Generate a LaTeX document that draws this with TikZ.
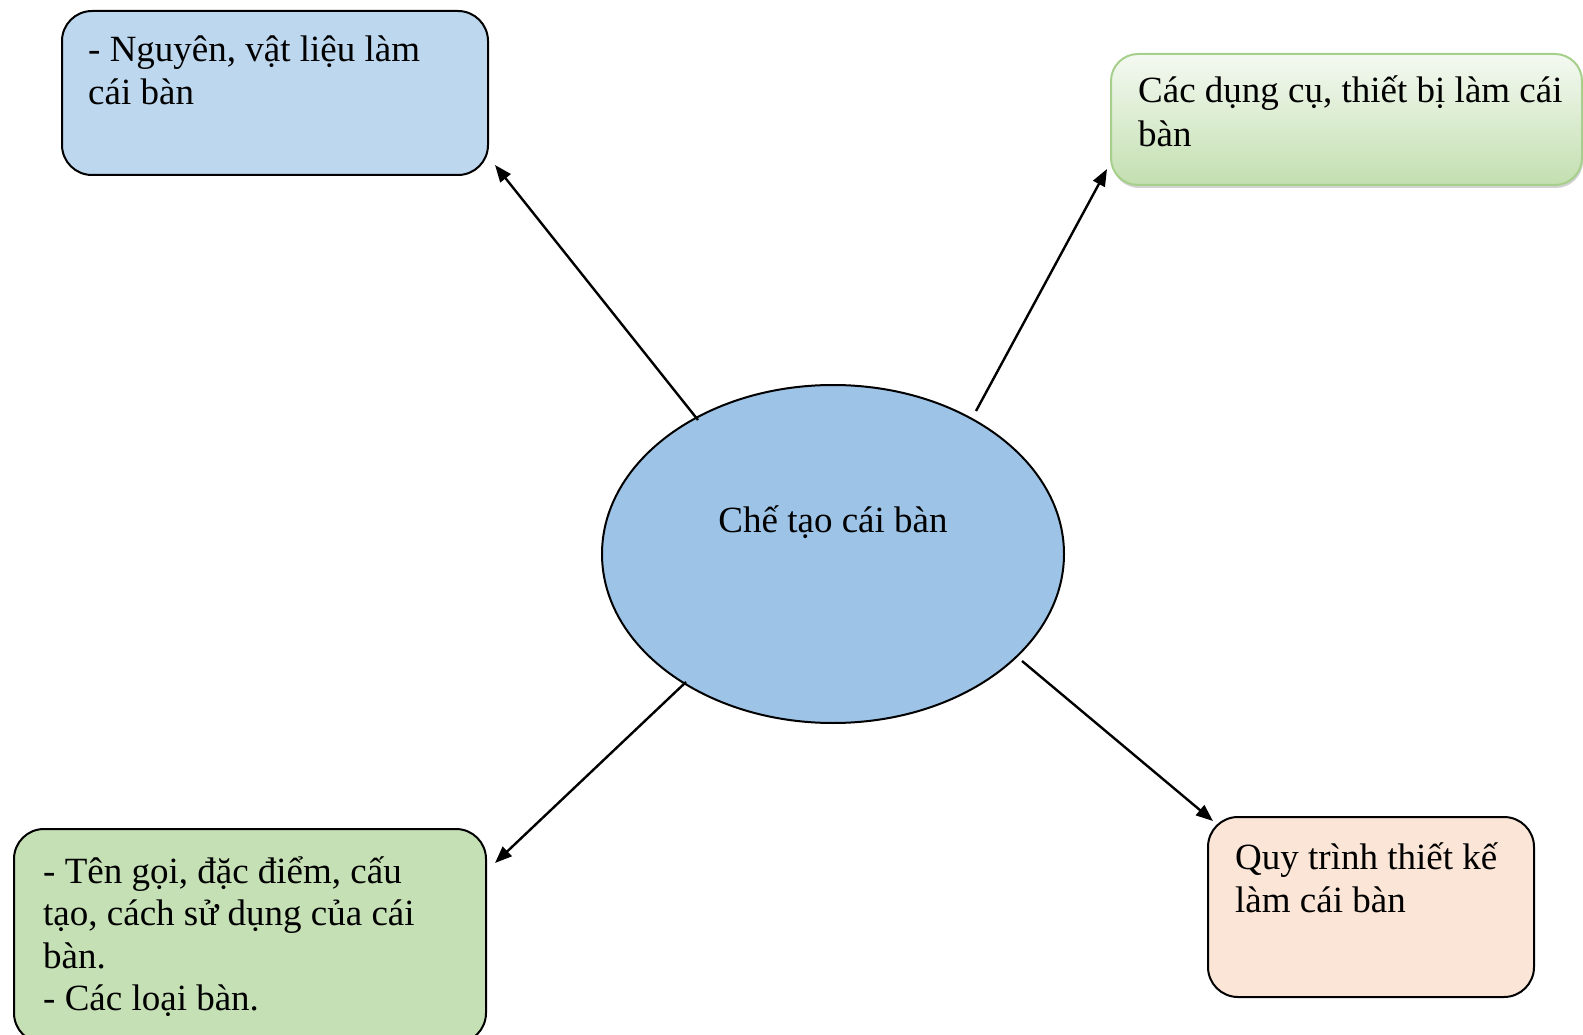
\documentclass[tikz,border=0pt]{standalone}
\usepackage{fontspec}
\setmainfont{Liberation Serif}
\usetikzlibrary{shapes.geometric,arrows.meta,calc,shadows}
\definecolor{tlblue}{HTML}{BDD7EE}
\definecolor{ellblue}{HTML}{9DC3E6}
\definecolor{blgreen}{HTML}{C5E0B4}
\definecolor{brpeach}{HTML}{FBE5D6}
\definecolor{trtop}{HTML}{F4F9F1}
\definecolor{trbot}{HTML}{C3DFB0}
\definecolor{trborder}{HTML}{A5CF8B}
\newcommand{\diagfont}{\fontsize{37}{42.5}\selectfont}
\newcommand{\ml}[2]{\vtop{\baselineskip=#1pt\lineskiplimit=-100pt\relax#2}}
\begin{document}
\begin{tikzpicture}[x=1pt,y=-1pt,
  box/.style={draw=black, line width=2pt, rounded corners=30pt, inner sep=0pt, anchor=north west},
  txt/.style={inner sep=0pt, anchor=base west, font=\diagfont},
  conn/.style={line width=2.4pt, -{Triangle[length=17pt,width=13pt]}}]
\useasboundingbox (0,0) rectangle (1583,1035);
% boxes
\node[box, fill=tlblue, minimum width=426pt, minimum height=164pt] (tl) at (61,10) {};
\node[box, draw=trborder, top color=trtop, bottom color=trbot, rounded corners=27pt,
      drop shadow={shadow xshift=1pt, shadow yshift=-3pt, fill=black!35, opacity=0.5},
      minimum width=471pt, minimum height=131pt] (tr) at (1110,53) {};
\node[box, fill=blgreen, minimum width=472pt, minimum height=214pt] (bl) at (13,828) {};
\node[box, fill=brpeach, minimum width=326pt, minimum height=180pt] (br) at (1207,816) {};
% ellipse
\node[ellipse, draw=black, line width=2pt, fill=ellblue, inner sep=0pt,
      minimum width=462pt, minimum height=338pt] (ell) at (833,554) {};
% texts
\node[txt] (tltext) at (88,62) {\ml{42.5}{\hbox{- Nguyên, vật liệu làm}\hbox{cái bàn}}};
\node[txt] (trtext) at (1138,103) {\ml{44}{\hbox{Các dụng cụ, thiết bị làm cái}\hbox{bàn}}};
\node[txt] (bltext) at (43,883) {\ml{42.5}{\hbox{- Tên gọi, đặc điểm, cấu}\hbox{tạo, cách sử dụng của cái}\hbox{bàn.}\hbox{- Các loại bàn.}}};
\node[txt] (brtext) at (1235,869) {\ml{43}{\hbox{Quy trình thiết kế}\hbox{làm cái bàn}}};
\node[inner sep=0pt, anchor=base, font=\diagfont] (elltext) at (833,532) {Chế tạo cái bàn};
% connectors
\draw[conn] ($(ell.center)+(-135,-134)$) -- ($(tl.south east)+(6,-11)$);
\draw[conn] ($(ell.center)+(143,-143)$) -- ($(tr.south west)+(-3,-17)$);
\draw[conn] ($(ell.center)+(-147,128)$) -- ($(bl.north east)+(8,35)$);
\draw[conn] ($(ell.center)+(189,107)$) -- ($(br.north west)+(6,5)$);
\end{tikzpicture}
\end{document}
